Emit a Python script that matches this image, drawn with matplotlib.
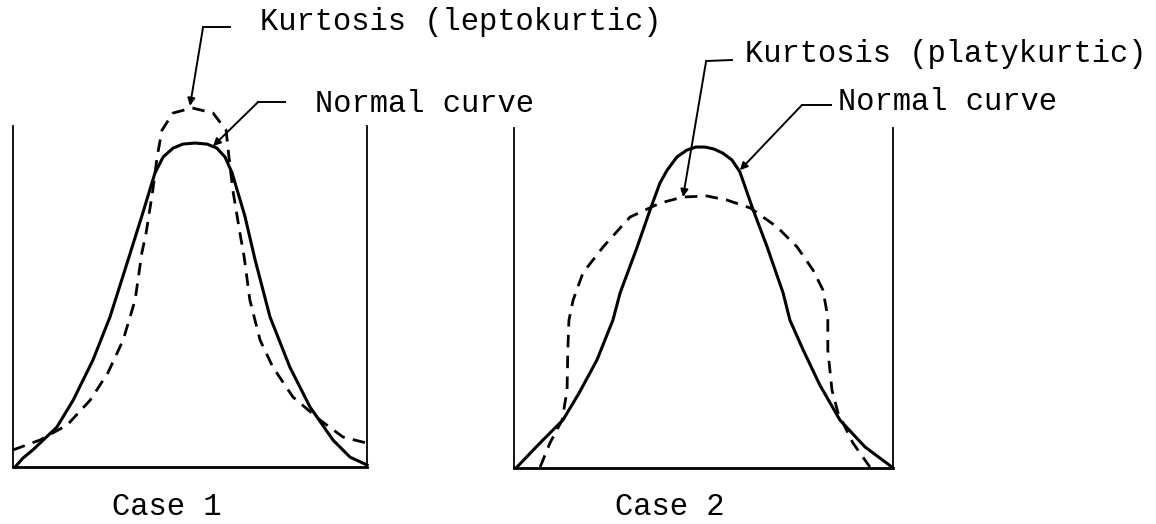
import numpy as np
import matplotlib
matplotlib.use('Agg')
import matplotlib.pyplot as plt

plt.rcParams['font.family'] = ['Liberation Mono', 'DejaVu Sans Mono']

# Case 1: normal curve vs leptokurtic curve (panel units, 0..100)
normal1_x = [0.6, 2.8, 5.6, 12.4, 17.0, 22.6, 27.4, 32.5, 36.4, 40.1, 42.4, 45.2, 48.0,
             51.4, 54.8, 57.6, 59.9, 61.9, 65.5, 68.4, 72.6, 78.2, 83.9, 90.4, 95.2, 100]
normal1_y = [0, 2.6, 5.0, 11.7, 19.6, 31.4, 44.0, 60.7, 73.6, 86.2, 90.9, 93.5, 94.7,
             95.0, 94.7, 93.5, 90.9, 86.2, 73.6, 60.7, 44.0, 29.3, 17.6, 7.9, 2.9, 0.6]
lepto_x = [0, 7.6, 15.3, 21.8, 26.8, 31.1, 34.5, 36.4, 37.6, 39.5, 40.7, 42.1, 45.2,
           50.6, 56.5, 60.2, 61.0, 62.1, 64.1, 65.3, 66.9, 69.8, 73.4, 79.1, 86.7,
           93.2, 100]
lepto_y = [5.0, 7.9, 12.3, 19.6, 27.6, 37.2, 49.0, 62.8, 68.6, 81.2, 90.9, 98.8, 103.8,
           105.3, 103.8, 98.8, 90.9, 81.2, 68.6, 61.6, 49.0, 37.2, 29.3, 20.5, 13.8,
           8.8, 7.0]

# Case 2: normal curve vs platykurtic curve
normal2_x = [0.8, 6.9, 12.9, 17.2, 21.9, 26.1, 28.0, 32.5, 35.9, 38.5, 40.4, 43.0,
             45.6, 48.0, 50.4, 52.8, 55.1, 57.5, 59.6, 63.1, 66.8, 71.0, 72.8, 76.3,
             80.7, 86.0, 92.6, 99.7]
normal2_y = [0.3, 7.4, 14.1, 22.1, 31.8, 43.5, 51.5, 65.0, 75.9, 83.8, 87.6, 91.5,
             93.5, 94.4, 94.4, 93.8, 92.6, 90.6, 87.1, 75.9, 65.0, 51.5, 43.5, 34.7,
             24.4, 14.1, 6.2, 0.3]
platy_x = [6.9, 9.5, 12.7, 14.0, 14.2, 14.5, 15.6, 18.2, 23.5, 30.6, 38.5, 44.6, 50.9,
           56.2, 62.3, 69.4, 74.7, 78.9, 81.5, 82.8, 82.8, 83.9, 85.5, 89.4, 93.9]
platy_y = [0.3, 7.4, 14.1, 22.9, 34.7, 43.5, 49.4, 57.4, 65.0, 73.8, 77.9, 79.7, 80.0,
           78.8, 76.5, 70.9, 65.0, 58.2, 52.4, 44.4, 34.7, 22.9, 16.2, 7.4, 0.3]

W, H = 1156, 524
fig = plt.figure(figsize=(W / 100, H / 100), dpi=100)

# panel placement in pixels: left, right, bottom line, px per unit in y
panels = [
    dict(x0=13, x1=367, base=467, sy=3.41),
    dict(x0=514, x1=893, base=468, sy=3.40),
]
axes = []
for p in panels:
    ax = fig.add_axes([p['x0'] / W, 0, (p['x1'] - p['x0']) / W, 1])
    ax.set_xlim(0, 100)
    ax.set_ylim((p['base'] - H) / p['sy'], p['base'] / p['sy'])
    ax.patch.set_visible(False)
    ax.spines['top'].set_visible(False)
    ax.spines['bottom'].set_position(('data', 0))
    ax.spines['bottom'].set_linewidth(2.0)
    for s in ['left', 'right']:
        ax.spines[s].set_bounds(0, 100)
        ax.spines[s].set_linewidth(1.3)
    ax.set_xticks([])
    ax.set_yticks([])
    axes.append(ax)

ax1, ax2 = axes
dash = (0, (4.5, 3))
ax1.plot(normal1_x, normal1_y, color='black', lw=2.2, solid_joinstyle='round', clip_on=False)
ax1.plot(lepto_x, lepto_y, color='black', lw=2.0, ls=dash, clip_on=False)
ax2.plot(normal2_x, normal2_y, color='black', lw=2.2, solid_joinstyle='round', clip_on=False)
ax2.plot(platy_x, platy_y, color='black', lw=2.0, ls=dash, clip_on=False)

fs = 22
arrow = dict(arrowstyle='-|>', color='black', lw=1.4, mutation_scale=11,
             shrinkA=0, shrinkB=0)


def leader(ax, label, text_xy, corner, end, tip):
    ax.text(text_xy[0], text_xy[1], label, fontsize=fs, ha='left', va='baseline')
    ax.plot([corner[0], end[0]], [corner[1], end[1]], color='black', lw=1.4,
            clip_on=False)
    ax.annotate('', xy=tip, xytext=corner, arrowprops=arrow)


leader(ax1, 'Kurtosis (leptokurtic)', (69.8, 128.2), (53.7, 129.0), (61.3, 129.0), (50.0, 105.9))
leader(ax1, 'Normal curve', (85.3, 104.1), (69.2, 107.0), (76.8, 107.0), (56.5, 94.1))
leader(ax2, 'Kurtosis (platykurtic)', (60.9, 119.4), (50.7, 119.7), (57.5, 120.0), (44.6, 79.7))
leader(ax2, 'Normal curve', (85.5, 105.3), (76.0, 106.8), (83.6, 106.8), (59.6, 87.6))

ax1.text(28.0, -14.1, 'Case 1', fontsize=fs, ha='left', va='baseline')
ax2.text(26.6, -13.8, 'Case 2', fontsize=fs, ha='left', va='baseline')

fig.savefig('out.png', dpi=100)
